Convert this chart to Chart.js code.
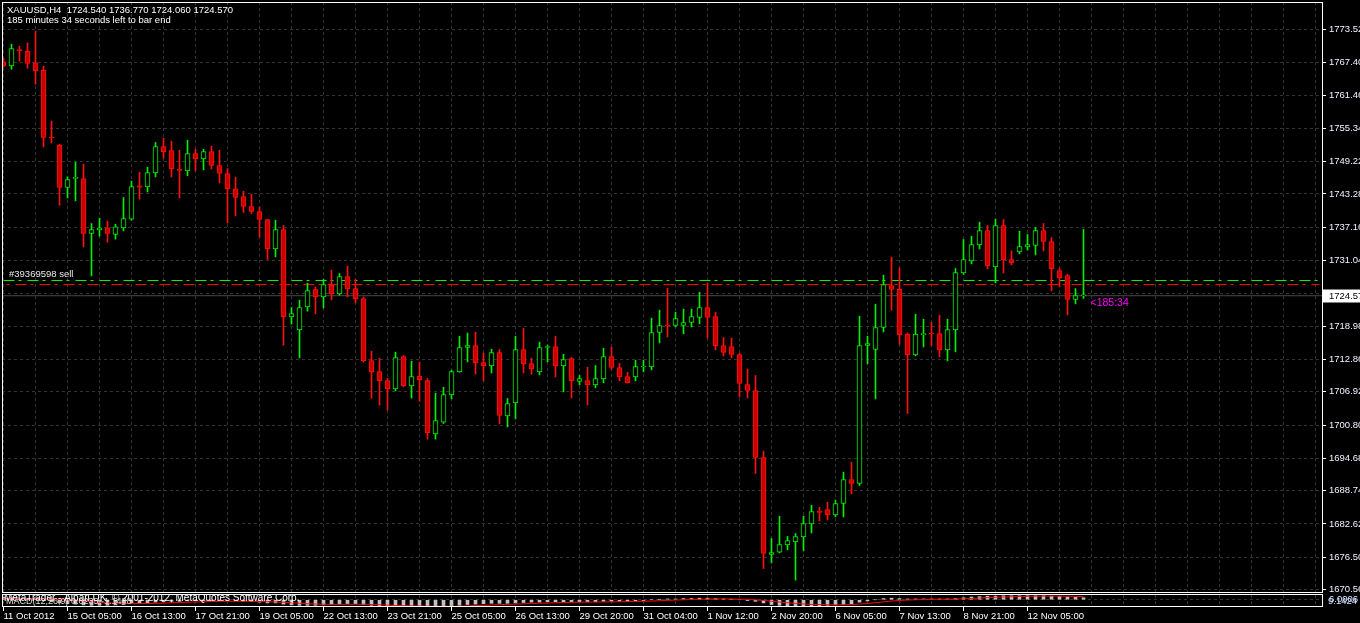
<!DOCTYPE html>
<html><head><meta charset="utf-8">
<script src="https://cdn.jsdelivr.net/npm/chart.js@4.4.0/dist/chart.umd.min.js"></script>
<style>
html,body{margin:0;padding:0;background:#000;overflow:hidden;}
#wrap{position:relative;width:1360px;height:623px;background:#000;}
#main{position:absolute;left:0;top:0;}
#ind{position:absolute;left:0;top:594px;}
</style></head><body>
<div id="wrap"><canvas id="main" width="1360" height="623"></canvas><canvas id="ind" width="1360" height="29"></canvas></div>
<script>
// ---- data (XAUUSD H4) ----
const symbolTitle = "XAUUSD,H4  1724.540 1736.770 1724.060 1724.570";
const timerText = "185 minutes 34 seconds left to bar end";
const xLabels = ["11 Oct 2012","15 Oct 05:00","16 Oct 13:00","17 Oct 21:00","19 Oct 05:00","22 Oct 13:00","23 Oct 21:00","25 Oct 05:00","26 Oct 13:00","29 Oct 20:00","31 Oct 04:00","1 Nov 12:00","2 Nov 20:00","6 Nov 05:00","7 Nov 13:00","8 Nov 21:00","12 Nov 05:00"];
const yTicks = [1773.52,1767.40,1761.46,1755.34,1749.22,1743.28,1737.16,1731.04,1724.92,1718.98,1712.86,1706.92,1700.80,1694.68,1688.74,1682.62,1676.50,1670.56];
const opens = [1767.57,1766.83,1769.81,1769.54,1767.38,1766.04,1753.76,1752.25,1744.47,1746.14,
1746.12,1736.01,1736.68,1737.06,1735.83,1737.06,1738.64,1744.77,1744.59,1747.15,
1752.01,1751.27,1747.80,1747.52,1750.72,1749.73,1751.09,1748.52,1747.04,1744.22,
1742.82,1740.98,1740.06,1738.59,1733.18,1736.75,1720.68,1718.29,1722.52,1725.72,
1724.36,1726.51,1724.91,1728.11,1725.90,1724.06,1712.67,1710.64,1708.99,1707.44,
1713.40,1707.99,1709.78,1708.99,1699.17,1701.32,1706.34,1710.57,1715.06,1715.42,
1712.30,1711.67,1714.14,1702.48,1704.87,1714.69,1712.11,1710.57,1715.06,1715.24,
1711.67,1713.03,1708.80,1708.99,1708.18,1709.28,1713.40,1711.38,1709.72,1709.65,
1711.47,1711.49,1717.81,1719.19,1719.10,1719.10,1719.65,1720.57,1722.41,1720.75,
1715.42,1715.24,1713.77,1708.25,1707.15,1694.83,1676.99,1677.42,1678.77,1679.32,
1680.24,1682.63,1684.92,1685.27,1684.28,1686.37,1690.78,1690.05,1715.42,1714.69,
1718.73,1726.46,1725.77,1717.50,1713.70,1717.41,1717.72,1717.63,1714.61,1718.29,
1728.77,1730.98,1733.92,1736.57,1729.88,1737.49,1731.24,1732.63,1733.55,1733.81,
1736.57,1734.54,1729.21,1728.29,1723.88,1724.54];
const highs = [1768.25,1770.82,1770.46,1771.06,1773.21,1766.78,1756.67,1752.43,1746.42,1749.13,
1748.76,1737.85,1738.83,1738.28,1737.72,1742.64,1745.63,1747.28,1748.20,1752.75,
1753.54,1752.99,1751.33,1753.17,1751.51,1751.51,1752.07,1751.33,1747.96,1746.37,
1743.79,1743.24,1740.85,1738.64,1738.46,1737.49,1722.41,1723.75,1726.88,1726.20,
1727.56,1729.27,1728.66,1730.00,1727.56,1724.36,1714.38,1713.09,1709.36,1714.19,
1713.58,1712.54,1712.35,1709.36,1706.65,1707.75,1710.88,1717.13,1717.69,1717.87,
1714.06,1714.74,1714.69,1705.68,1717.13,1718.60,1713.09,1716.03,1715.48,1717.13,
1713.82,1713.22,1709.90,1711.43,1711.75,1714.93,1715.11,1712.17,1710.51,1712.72,
1712.72,1720.44,1721.91,1725.96,1721.55,1722.10,1722.10,1725.22,1726.93,1721.55,
1716.89,1716.77,1713.96,1711.07,1709.90,1695.99,1679.93,1684.04,1680.31,1680.86,
1684.04,1686.06,1685.69,1686.61,1686.98,1692.13,1693.97,1720.81,1717.13,1723.02,
1728.35,1731.66,1729.64,1717.74,1721.18,1720.26,1719.71,1720.99,1720.26,1729.58,
1734.91,1735.52,1738.09,1737.49,1738.64,1738.59,1732.82,1736.44,1735.83,1737.12,
1737.85,1735.28,1729.58,1728.53,1725.90,1736.77];
const lows = [1766.59,1766.23,1767.70,1766.41,1763.46,1751.94,1752.67,1741.22,1742.56,1742.01,
1733.55,1728.22,1735.52,1734.41,1734.97,1736.49,1738.46,1742.32,1743.66,1746.42,
1749.86,1746.42,1742.56,1746.61,1747.52,1747.71,1747.89,1745.31,1737.96,1739.25,
1739.88,1739.69,1735.33,1731.24,1731.71,1715.48,1719.34,1713.15,1721.73,1721.23,
1722.34,1723.81,1724.67,1724.36,1723.26,1712.41,1705.73,1704.45,1703.53,1707.07,
1707.81,1705.73,1705.18,1698.20,1698.20,1701.08,1705.61,1710.51,1712.41,1710.20,
1708.91,1710.38,1701.01,1700.46,1701.93,1710.38,1710.14,1710.02,1712.41,1709.65,
1706.89,1705.79,1708.18,1704.50,1707.63,1708.55,1711.01,1708.91,1708.50,1708.91,
1710.57,1710.94,1715.90,1717.00,1718.84,1717.56,1718.84,1719.39,1716.82,1714.61,
1713.51,1713.15,1705.97,1705.79,1691.89,1674.42,1675.45,1677.29,1677.85,1672.27,
1677.66,1680.97,1683.17,1683.36,1683.91,1683.91,1688.14,1689.68,1712.04,1705.61,
1717.92,1721.91,1715.66,1702.92,1713.51,1715.17,1715.35,1713.33,1712.59,1714.25,
1728.48,1730.43,1733.18,1729.51,1726.93,1728.77,1730.25,1732.26,1733.00,1732.08,
1732.82,1725.46,1726.20,1721.05,1723.07,1724.06];
const closes = [1766.83,1770.03,1769.63,1767.27,1765.91,1753.67,1753.58,1744.47,1745.94,1746.33,
1736.01,1736.75,1737.06,1736.01,1737.25,1738.77,1744.65,1744.53,1747.23,1752.01,
1751.02,1747.89,1747.61,1750.72,1749.73,1751.09,1748.52,1747.04,1744.22,1742.64,
1740.98,1740.06,1738.59,1733.18,1736.75,1720.68,1721.31,1722.41,1725.54,1724.36,
1726.64,1724.91,1728.11,1725.83,1723.99,1712.59,1710.57,1708.91,1707.44,1713.22,
1707.99,1709.72,1709.10,1699.35,1701.63,1706.41,1710.64,1715.06,1715.42,1712.22,
1711.67,1714.14,1702.55,1704.76,1714.69,1712.04,1711.12,1715.06,1715.24,1711.67,
1712.85,1708.91,1709.36,1708.18,1709.36,1713.40,1711.38,1709.65,1708.55,1711.56,
1711.65,1717.81,1719.10,1719.01,1720.39,1719.65,1720.75,1722.41,1720.57,1715.35,
1714.14,1713.77,1708.44,1707.15,1694.83,1677.18,1677.36,1678.84,1679.57,1680.31,
1682.70,1684.90,1684.74,1684.28,1686.37,1690.78,1690.05,1715.42,1715.79,1718.73,
1726.64,1725.72,1717.37,1713.70,1717.50,1717.59,1717.54,1714.61,1718.36,1728.85,
1731.24,1733.99,1736.57,1730.06,1737.49,1731.16,1730.61,1733.62,1733.99,1736.57,
1734.54,1729.51,1727.85,1723.88,1724.62,1724.57];
const orderOpen = 1727.37;   // green dash-dot
const orderStop = 1726.64;   // red dash-dot
const orderLabel = "#39369598 sell";
const bidPrice = 1724.57;
const bidText = "1724.57";
const countdownText = "<185:34";
const copyrightText = "MetaTrader - Alpari UK, \u00a9 2001-2012, MetaQuotes Software Corp.";
const indicatorText = "MACD(12,26,9) 0.6235 -1.1488";
// MACD sub-window
const macdMax = 6.0006, macdMin = -9.1424;
const macdMain = [3,2.5,2,1.5,1,-1,-2.5,-4,-5,-5.5,
-6.5,-7,-7,-7,-6.5,-6,-5,-4.5,-4,-3,
-2.5,-2,-2,-1.5,-1.2,-1,-1,-1,-1.2,-1.5,
-2,-2.5,-3,-4,-4,-5.5,-6.5,-7,-7,-7,
-6.5,-6,-5.5,-5,-5,-6,-7,-8,-8.5,-8.5,
-8.5,-8.5,-8.5,-9,-9,-8.5,-8,-7,-6,-5.5,
-5,-4.5,-4.5,-4.5,-4,-3.5,-3,-3,-2.5,-2.5,
-2.5,-2.5,-2.5,-2.5,-2.5,-2,-2,-2,-2,-1.5,
-1,0,0.5,1,1,1.5,1.5,2,2,1.5,
1,0.5,0,-1,-2,-4,-6,-7,-7.5,-8,
-8,-8,-7.5,-7,-6.5,-6,-5,-3,-1.5,0,
1.5,2,1.5,1,1,1,1,1,1,1.5,
2.5,3.5,4,4.5,4.5,5,5,5,5,5,
5,4.5,4,3.5,3,2.5];
const macdSignal = [1.5,1.6,1.6,1.6,1.5,1.2,0.8,0.3,-0.3,-1,
-1.7,-2.5,-3.2,-3.8,-4.3,-4.6,-4.8,-4.8,-4.7,-4.5,
-4.2,-3.8,-3.5,-3.1,-2.8,-2.5,-2.2,-2,-1.9,-1.8,
-1.9,-2,-2.2,-2.5,-2.8,-3.2,-3.8,-4.4,-5,-5.4,
-5.7,-5.8,-5.8,-5.7,-5.6,-5.7,-6,-6.4,-6.8,-7.2,
-7.5,-7.7,-7.9,-8.1,-8.3,-8.3,-8.3,-8.1,-7.8,-7.4,
-7,-6.6,-6.2,-5.9,-5.5,-5.1,-4.7,-4.4,-4.1,-3.8,
-3.5,-3.3,-3.1,-3,-2.9,-2.7,-2.6,-2.5,-2.4,-2.2,
-2,-1.6,-1.2,-0.8,-0.4,0,0.3,0.6,0.9,1.1,
1.1,1,0.8,0.4,-0.1,-0.9,-1.9,-2.9,-3.8,-4.6,
-5.3,-5.8,-6.1,-6.3,-6.4,-6.3,-6.1,-5.5,-4.7,-3.7,
-2.6,-1.6,-0.9,-0.4,0,0.3,0.5,0.6,0.7,0.9,
1.2,1.7,2.2,2.7,3.1,3.5,3.8,4.1,4.3,4.5,
4.6,4.7,4.6,4.5,4.3,4];

// ---- view settings ----
const X_MIN = -0.1875, X_MAX = 164.8125;
const Y_MIN = 1670.10, Y_MAX = 1778.58;
const FONT = '"Liberation Sans", Arial, sans-serif';
const BULL = '#00f000', BEAR = '#ff1010', BEAR_FILL = '#c80000';

const idx = opens.map((_, i) => i);
const isUp = idx.map(i => closes[i] >= opens[i]);
const gridTicks = []; for (let v = 0; v <= 164; v += 4) gridTicks.push(v);

const mainPlugin = {
  id: 'mainDeco',
  afterDraw(chart) {
    const {ctx, scales:{x, y}} = chart;
    ctx.save();
    ctx.strokeStyle = '#ffffff'; ctx.lineWidth = 1;
    ctx.strokeRect(2.5, 2.5, 1320, 590);
    ctx.fillStyle = '#ffffff';
    ctx.font = '9.5px ' + FONT;
    ctx.textBaseline = 'middle'; ctx.textAlign = 'left';
    ctx.fillText(symbolTitle, 7, 10.5);
    ctx.fillText(timerText, 7, 20.5);
    ctx.fillStyle = '#e8e8e8';
    ctx.fillText(orderLabel, 9, y.getPixelForValue(orderOpen) - 6);
    const by = y.getPixelForValue(bidPrice);
    ctx.fillStyle = '#ff00ff';
    ctx.font = '10.5px ' + FONT;
    ctx.fillText(countdownText, x.getPixelForValue(opens.length - 1) + 7, by + 7.5);
    ctx.fillStyle = '#ffffff';
    ctx.fillRect(1323, Math.round(by) - 6.5, 37, 13);
    ctx.fillStyle = '#000000';
    ctx.font = '9.5px ' + FONT;
    ctx.fillText(bidText, 1329, Math.round(by));
    ctx.restore();
  }
};

new Chart(document.getElementById('main'), {
  data: {
    datasets: [
      { type:'bar', label:'body', order:0, grouped:false,
        data: idx.map(i => ({x:i, y:[opens[i], closes[i]]})),
        backgroundColor: idx.map(i => isUp[i] ? '#000000' : BEAR_FILL),
        borderColor: idx.map(i => isUp[i] ? BULL : BEAR),
        borderWidth: 1, borderSkipped: false, barThickness: 5, minBarLength: 1 },
      { type:'bar', label:'wick', order:1, grouped:false,
        data: idx.map(i => ({x:i, y:[lows[i], highs[i]]})),
        backgroundColor: idx.map(i => isUp[i] ? BULL : BEAR),
        borderWidth: 0, barThickness: 1 },
      { type:'line', label:'order', order:2,
        data: [{x:0, y:orderOpen}, {x:164.5, y:orderOpen}],
        borderColor:'#00ff00', borderWidth:1, borderDash:[11,4,3,6], pointRadius:0 },
      { type:'line', label:'sl', order:3,
        data: [{x:0, y:orderStop}, {x:164.5, y:orderStop}],
        borderColor:'#ff0000', borderWidth:1, borderDash:[11,4,3,6], borderDashOffset: 12, pointRadius:0 },
      { type:'line', label:'bid', order:4,
        data: [{x:X_MIN, y:bidPrice}, {x:X_MAX, y:bidPrice}],
        borderColor:'#4a4a4a', borderWidth:1, pointRadius:0 }
    ]
  },
  options: {
    responsive:false, animation:false, devicePixelRatio:1,
    layout:{padding:{left:2, top:2, right:0, bottom:31}},
    plugins:{legend:{display:false}, tooltip:{enabled:false}},
    scales:{
      x:{ type:'linear', min:X_MIN, max:X_MAX, offset:false,
        afterBuildTicks: s => { s.ticks = gridTicks.map(v => ({value:v})); },
        afterFit: s => { s.height = 0; s.paddingLeft = 0; s.paddingRight = 0; },
        ticks:{display:false},
        grid:{color:'#333333', drawTicks:false, lineWidth:1, offset:false},
        border:{display:false, dash:[3,3]} },
      y:{ type:'linear', position:'right', min:Y_MIN, max:Y_MAX,
        afterBuildTicks: s => { s.ticks = yTicks.map(v => ({value:v})); },
        afterFit: s => { s.width = 38; s.paddingTop = 0; s.paddingBottom = 0; },
        ticks:{color:'#f0f4ff', font:{family:FONT, size:9.5}, padding:3, autoSkip:false,
          callback: v => Number(v).toFixed(2)},
        grid:{color:'#333333', tickColor:'#ffffff', tickLength:4, tickBorderDash:[], lineWidth:1},
        border:{display:false, dash:[3,3]} }
    }
  },
  plugins:[mainPlugin]
});

const indPlugin = {
  id:'indDeco',
  afterDraw(chart) {
    const {ctx} = chart;
    ctx.save();
    ctx.strokeStyle = '#ffffff'; ctx.lineWidth = 1;
    ctx.strokeRect(2.5, 0.5, 1320, 12);
    ctx.textBaseline = 'middle'; ctx.textAlign = 'left';
    ctx.fillStyle = '#d8d8d8';
    ctx.font = '9px ' + FONT;
    ctx.fillText(indicatorText, 6, 8);
    ctx.fillStyle = '#ffffff';
    ctx.font = '10px ' + FONT;
    ctx.fillText(copyrightText, 4, 4.5);
    // overlapping max / min labels of the sub-window scale
    ctx.fillStyle = '#d0e0ff';
    ctx.font = '9.5px ' + FONT;
    ctx.fillText(Number(macdMin).toFixed(4).replace('-', ''), 1328, 7.5);
    ctx.fillText(Number(macdMax).toFixed(4), 1329, 5.5);
    ctx.restore();
  }
};

new Chart(document.getElementById('ind'), {
  data: {
    datasets: [
      { type:'line', label:'signal', order:0,
        data: idx.map(i => ({x:i, y:macdSignal[i]})),
        borderColor:'#ff0000', borderWidth:1, pointRadius:0, tension:0 },
      { type:'bar', label:'macd', order:1,
        data: idx.map(i => ({x:i, y:macdMain[i]})),
        backgroundColor:'#c0c0c0', borderWidth:0, barThickness:3 }
    ]
  },
  options: {
    responsive:false, animation:false, devicePixelRatio:1,
    layout:{padding:{left:2, top:1, right:0, bottom:0}},
    plugins:{legend:{display:false}, tooltip:{enabled:false}},
    scales:{
      x:{ type:'linear', min:X_MIN, max:X_MAX, offset:false,
        afterBuildTicks: s => { s.ticks = gridTicks.map(v => ({value:v})); },
        afterFit: s => { s.height = 16; s.paddingLeft = 0; s.paddingRight = 0; },
        ticks:{color:'#ffffff', font:{family:FONT, size:9.5}, padding:0, autoSkip:false, maxRotation:0, align:'start',
          callback: v => (v % 8 === 0 && v / 8 < xLabels.length) ? xLabels[v / 8] : ''},
        grid:{color:'#333333', tickLength:4, tickBorderDash:[], offset:false,
          tickColor: c => (c.tick && c.tick.value % 8 === 0 && c.tick.value / 8 < xLabels.length) ? '#ffffff' : 'rgba(0,0,0,0)'},
        border:{display:false, dash:[3,3]} },
      y:{ type:'linear', position:'right', min:macdMin, max:macdMax,
        afterBuildTicks: s => { s.ticks = [macdMin, 0, macdMax].map(v => ({value:v})); },
        afterFit: s => { s.width = 38; s.paddingTop = 0; s.paddingBottom = 0; },
        ticks:{display:false},
        grid:{color: c => (c.tick && c.tick.value === 0) ? '#333333' : 'rgba(0,0,0,0)', drawTicks:false},
        border:{display:false, dash:[3,3]} }
    }
  },
  plugins:[indPlugin]
});
</script>
</body></html>
